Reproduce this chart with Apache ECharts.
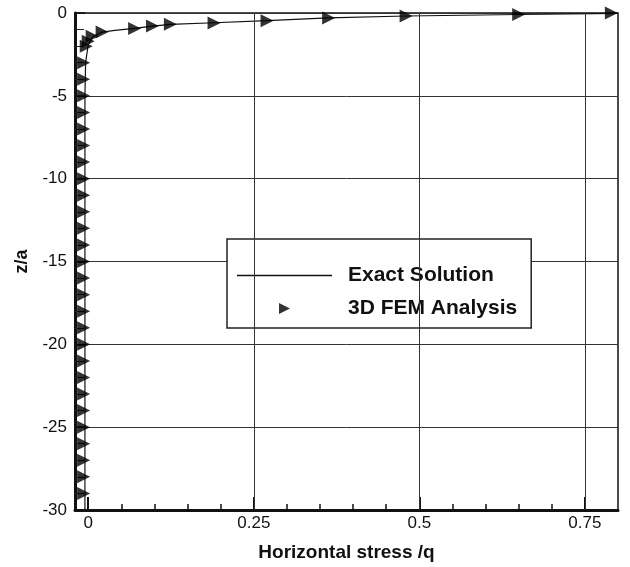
<!DOCTYPE html>
<html>
<head>
<meta charset="utf-8">
<script src="https://cdn.jsdelivr.net/npm/echarts@6/dist/echarts.min.js"></script>
<style>
html,body{margin:0;padding:0;background:#fff;}
#chart{width:630px;height:567px;}
</style>
</head>
<body>
<div id="chart"></div>
<script>
// Exact solution curve (x = horizontal stress / q, z = z/a)
const exactX = [0.80, 0.65, 0.48, 0.363, 0.27, 0.19, 0.124, 0.097, 0.07, 0.04, 0.021, 0.008, 0.0, -0.004, -0.005, -0.005, -0.005, -0.005];
const exactZ = [-0.02, -0.09, -0.18, -0.30, -0.46, -0.59, -0.69, -0.79, -0.93, -1.05, -1.15, -1.4, -1.9, -3.0, -5, -10, -20, -30];

// 3D FEM analysis points
const femX = [0.79, 0.65, 0.48, 0.363, 0.27, 0.19, 0.124, 0.097, 0.07, 0.021, 0.006, 0.0, -0.003,
  -0.007, -0.007, -0.007, -0.007, -0.007, -0.007, -0.007, -0.007, -0.007, -0.007,
  -0.007, -0.007, -0.007, -0.007, -0.007, -0.007, -0.007, -0.007, -0.007, -0.007,
  -0.007, -0.007, -0.007, -0.007, -0.007, -0.007, -0.007];
const femZ = [0.0, -0.09, -0.18, -0.30, -0.47, -0.60, -0.68, -0.78, -0.93, -1.14, -1.4, -1.7, -2.0,
  -3, -4, -5, -6, -7, -8, -9, -10,
  -11, -12, -13, -14, -15, -16, -17, -18, -19, -20,
  -21, -22, -23, -24, -25, -26, -27, -28, -29];

// Axis ticks
const xMajorTicks = [0, 0.25, 0.5, 0.75];
const xMinorTicks = [0.05, 0.1, 0.15, 0.2, 0.3, 0.35, 0.4, 0.45, 0.55, 0.6, 0.65, 0.7];
const xGridLines = [0.25, 0.5, 0.75];
const seriesNames = ['Exact Solution', '3D FEM Analysis'];

const tri = 'path://M0,0L10,5L0,10Z';
const bar = 'path://M0,0L95,0L95,1.3L0,1.3Z';
const FONT = '"Liberation Sans", Arial, sans-serif';

const chart = echarts.init(document.getElementById('chart'));
chart.setOption({
  backgroundColor: '#fff',
  animation: false,
  textStyle: {fontFamily: FONT},
  grid: {left: 75, right: 12, top: 13, bottom: 55, show: true, borderColor: '#111', borderWidth: 1.5, backgroundColor: 'transparent'},
  legend: {
    left: 227, top: 239, orient: 'vertical',
    padding: [26, 14, 9, 10],
    itemWidth: 95, itemHeight: 11, itemGap: 12,
    backgroundColor: '#fff', borderColor: '#222', borderWidth: 1.5,
    textStyle: {fontFamily: FONT, fontSize: 21, fontWeight: 'bold', color: '#111', padding: [0, 0, 0, 11]},
    data: [{name: seriesNames[0], icon: bar, itemStyle: {color: '#111'}}, {name: seriesNames[1], icon: tri}]
  },
  xAxis: [{
    type: 'value', min: -0.02, max: 0.8, position: 'bottom',
    name: 'Horizontal stress /q', nameLocation: 'middle', nameGap: 33,
    nameTextStyle: {fontFamily: FONT, fontSize: 19, fontWeight: 'bold', color: '#111'},
    axisLine: {show: true, onZero: false, lineStyle: {color: '#111', width: 3}},
    axisTick: {show: true, inside: true, length: 13, customValues: xMajorTicks, lineStyle: {color: '#111', width: 2}},
    axisLabel: {show: true, customValues: xMajorTicks, fontSize: 17, color: '#111', margin: 5, formatter: v => String(v)},
    splitLine: {show: false}
  }, {
    type: 'value', min: -0.02, max: 0.8, position: 'bottom',
    axisLine: {show: false, onZero: false},
    axisTick: {show: true, inside: true, length: 6, customValues: xMinorTicks, lineStyle: {color: '#111', width: 1.5}},
    axisLabel: {show: false},
    splitLine: {show: false}
  }],
  yAxis: {
    type: 'value', min: -30, max: 0, interval: 5,
    name: 'z/a', nameLocation: 'middle', nameGap: 44,
    nameTextStyle: {fontFamily: FONT, fontSize: 18, fontWeight: 'bold', color: '#111'},
    axisLine: {show: true, onZero: false, lineStyle: {color: '#111', width: 3}},
    axisTick: {show: true, inside: true, length: 10, lineStyle: {color: '#111', width: 1.5}},
    minorTick: {show: true, splitNumber: 5, length: 9, lineStyle: {color: '#222', width: 1}},
    axisLabel: {fontSize: 17, color: '#111', margin: 8},
    splitLine: {show: true, lineStyle: {color: '#333', width: 1}}
  },
  series: [{
    name: seriesNames[0], type: 'line', xAxisIndex: 0,
    symbol: 'none', showSymbol: false, smooth: false,
    lineStyle: {color: '#111', width: 1.2}, itemStyle: {color: '#111'},
    data: exactX.map((x, i) => [x, exactZ[i]]),
    z: 3,
    markLine: {
      silent: true, symbol: 'none', label: {show: false},
      lineStyle: {color: '#333', width: 1, type: 'solid'},
      data: xGridLines.map(v => ({xAxis: v}))
    }
  }, {
    name: seriesNames[1], type: 'scatter', xAxisIndex: 0,
    symbol: tri, symbolSize: [13, 13],
    itemStyle: {color: '#000'},
    data: femX.map((x, i) => [x, femZ[i]]),
    z: 4
  }]
});
</script>
</body>
</html>
